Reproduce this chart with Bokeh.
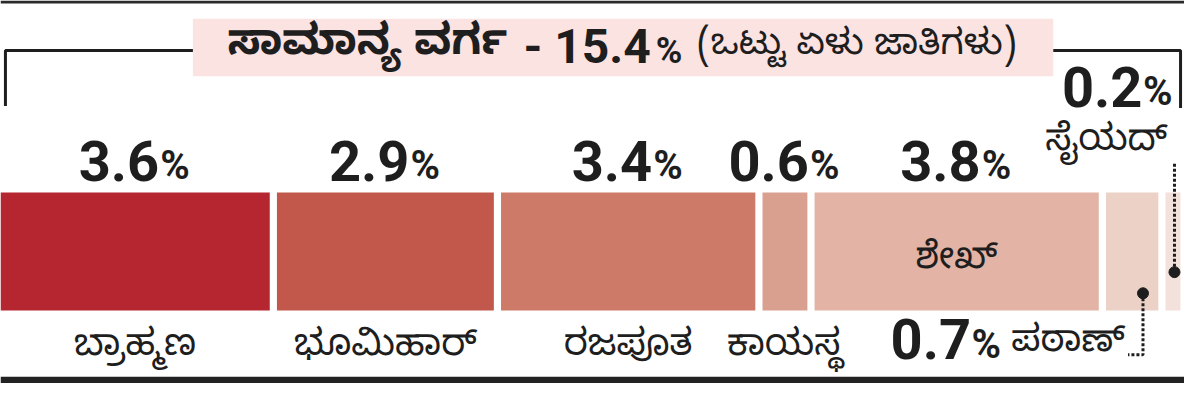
from bokeh.plotting import figure
from bokeh.models import Range1d, ColumnDataSource
from bokeh.core.properties import value
from bokeh.embed import file_html
from bokeh.resources import INLINE
import numpy as np

# ---------------- data ----------------
castes = ["ಬ್ರಾಹ್ಮಣ", "ಭೂಮಿಹಾರ್", "ರಜಪೂತ", "ಕಾಯಸ್ಥ", "ಶೇಖ್", "ಪಠಾಣ್", "ಸೈಯದ್"]
shares = [3.6, 2.9, 3.4, 0.6, 3.8, 0.7, 0.2]
colors = ["#b52631", "#c2584b", "#cd7a68", "#d9a08f", "#e3b4a5", "#ecd1c7", "#f3e2dc"]
share_labels = ["3.6", "2.9", "3.4", "0.6", "3.8", "0.7", "0.2"]
title_main = "ಸಾಮಾನ್ಯ ವರ್ಗ"
title_total = "- 15.4"
title_sub = "(ಒಟ್ಟು ಏಳು ಜಾತಿಗಳು)"

# ---------------- styles ----------------
KN = value("'Noto Sans Kannada', 'Noto Sans', sans-serif")
NUM = value("Roboto, 'Liberation Sans', sans-serif")
INK = "#1e1e1e"

W, H = 1184, 383
GAP = 0.096          # gap between segments (in % units)
XMAX = 15.83

p = figure(width=W, height=H, output_backend="svg", toolbar_location=None,
           x_range=Range1d(0, XMAX), y_range=Range1d(399, 0),
           x_axis_location=None, y_axis_location=None, min_border=0,
           background_fill_color="white", border_fill_color="white")
p.extra_x_ranges = {"px": Range1d(0, 1200)}
p.grid.visible = False
p.outline_line_color = None

n = len(shares)
vals = np.array(shares)
left = np.concatenate([[0.0], np.cumsum(vals)[:-1]]) + np.arange(n) * GAP
right = left + vals
mid = (left + right) / 2

src = ColumnDataSource(dict(left=left, right=right, mid=mid, color=colors,
                            name=castes, lab=share_labels))

# frame lines (top rule and bottom band)
p.quad(left=[0, 0], right=[1200, 1200], top=[0, 392], bottom=[3, 399],
       x_range_name="px", fill_color=["#2a2a2a", "#222222"], line_color=None)

# title box
p.quad(left=[195], right=[1067], top=[19], bottom=[79], x_range_name="px",
       fill_color="#fbe3e2", line_color=None)
# bracket
p.line(x=[5, 5, 195], y=[110, 52, 52], x_range_name="px", line_color=INK, line_width=3)
p.line(x=[1067, 1196, 1196], y=[52, 52, 112], x_range_name="px", line_color=INK, line_width=3)

p.text(x=[230], y=[49], text=[title_main], x_range_name="px", text_font=KN,
       text_font_size="43px", text_font_style="bold", text_color=INK, text_baseline="middle")
p.text(x=[530], y=[48], text=[title_total], x_range_name="px", text_font=NUM,
       text_font_size="48px", text_font_style="bold", text_color=INK, text_baseline="middle")
p.text(x=[664], y=[53], text=["%"], x_range_name="px", text_font=NUM,
       text_font_size="36px", text_font_style="bold", text_color=INK, text_baseline="middle")
p.text(x=[706], y=[51], text=[title_sub], x_range_name="px", text_font=KN,
       text_font_size="36px", text_color=INK, text_baseline="middle")

# bars
p.hbar(y=261.5, height=123, left="left", right="right", fill_color="color",
       line_color=None, source=src)

# percentage labels above first five bars
top5 = ColumnDataSource(dict(mid=mid[:5], lab=share_labels[:5]))
p.text(x="mid", y=167, text="lab", source=top5, text_font=NUM, text_font_size="56px",
       text_font_style="bold", text_color=INK, text_align="right",
       text_baseline="middle", x_offset=24)
p.text(x="mid", y=172, text=value("%"), source=top5, text_font=NUM, text_font_size="40px",
       text_font_style="bold", text_color=INK, text_align="left",
       text_baseline="middle", x_offset=25)

# caste names below first four bars
bot4 = ColumnDataSource(dict(mid=mid[:4], name=castes[:4]))
p.text(x="mid", y=364, text="name", source=bot4, text_font=KN, text_font_size="37px",
       text_color=INK, text_align="center", text_baseline="middle")

# Shekh inside the bar
p.text(x=[mid[4]], y=[273], text=[castes[4]], text_font=KN, text_font_size="37px",
       text_color=INK, text_align="center", text_baseline="middle")

# Pathan callout
px_dot = mid[5] + 0.145
p.line(x=[px_dot, px_dot, px_dot - 0.2], y=[305, 369, 369], line_color=INK,
       line_width=3, line_dash="3 2")
p.scatter(x=[px_dot], y=[305], size=11, color=INK)
p.text(x=[px_dot - 0.2], y=[360], text=[castes[5]], text_font=KN, text_font_size="37px",
       text_color=INK, text_align="right", text_baseline="middle", x_offset=-3)
p.text(x=[px_dot - 0.2], y=[358], text=["%"], text_font=NUM, text_font_size="40px",
       text_font_style="bold", text_color=INK, text_align="right",
       text_baseline="middle", x_offset=-127)
p.text(x=[px_dot - 0.2], y=[353], text=[share_labels[5]], text_font=NUM, text_font_size="56px",
       text_font_style="bold", text_color=INK, text_align="right",
       text_baseline="middle", x_offset=-157)

# Syed callout
sx = mid[6] + 0.02
p.line(x=[sx, sx], y=[170, 283], line_color=INK, line_width=3, line_dash="3 2")
p.scatter(x=[sx], y=[283], size=11, color=INK)
p.text(x=[right[6]], y=[95], text=["%"], text_font=NUM, text_font_size="40px",
       text_font_style="bold", text_color=INK, text_align="right",
       text_baseline="middle", x_offset=-8)
p.text(x=[right[6]], y=[90], text=[share_labels[6]], text_font=NUM, text_font_size="56px",
       text_font_style="bold", text_color=INK, text_align="right",
       text_baseline="middle", x_offset=-38)
p.text(x=[right[6]], y=[151], text=[castes[6]], text_font=KN, text_font_size="37px",
       text_color=INK, text_align="right", text_baseline="middle", x_offset=-13)

open("out.html", "w").write(file_html(p, INLINE))
